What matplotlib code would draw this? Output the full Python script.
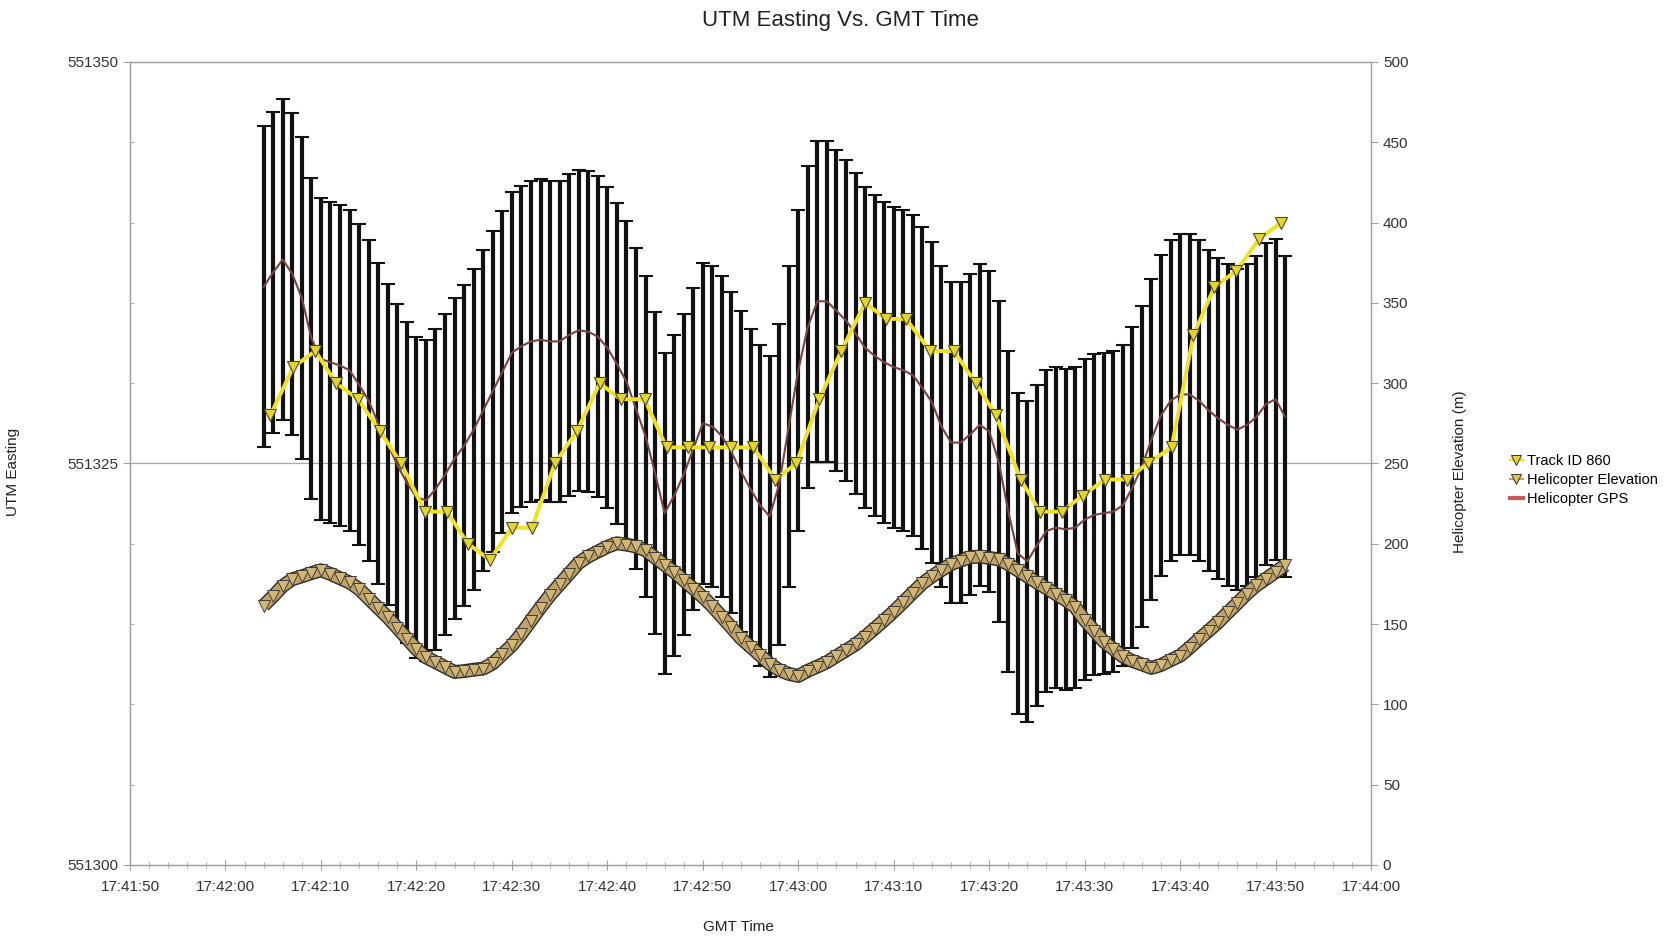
import pandas as pd
import matplotlib
matplotlib.use("Agg")
import matplotlib.pyplot as plt
import matplotlib.dates as mdates
import matplotlib.patheffects as pe
from matplotlib.lines import Line2D
from matplotlib.ticker import MultipleLocator, FormatStrFormatter

plt.rcParams['font.family'] = ['Liberation Sans', 'DejaVu Sans']

DAY = "2009-06-01 "

# Helicopter GPS, one reading per second starting 17:42:04
gps_start = "17:42:04"
gps_easting = [
    551336.0, 551336.9, 551337.7, 551336.8, 551335.3, 551332.8, 551331.5, 551331.3, 551331.1, 551330.8,
    551329.9, 551328.9, 551327.5, 551326.2, 551324.9, 551323.8, 551322.9, 551322.7, 551323.4, 551324.3,
    551325.3, 551326.1, 551327.1, 551328.3, 551329.5, 551330.7, 551331.9, 551332.3, 551332.6, 551332.7,
    551332.6, 551332.6, 551333.0, 551333.3, 551333.2, 551332.9, 551332.2, 551331.2, 551330.1, 551328.4,
    551326.7, 551324.4, 551321.9, 551323.0, 551324.3, 551325.9, 551327.5, 551327.3, 551326.7, 551325.7,
    551324.5, 551323.4, 551322.4, 551321.7, 551323.7, 551327.3, 551330.8, 551333.5, 551335.1, 551335.1,
    551334.5, 551333.9, 551333.1, 551332.2, 551331.7, 551331.3, 551331.0, 551330.8, 551330.5, 551329.7,
    551328.8, 551327.3, 551326.3, 551326.3, 551326.8, 551327.4, 551327.0, 551325.1, 551322.0, 551319.4,
    551318.9, 551319.9, 551320.8, 551321.0, 551320.9, 551321.0, 551321.5, 551321.8, 551321.9, 551322.0,
    551322.4, 551323.5, 551324.8, 551326.5, 551328.0, 551328.9, 551329.3, 551329.3, 551328.9, 551328.3,
    551327.8, 551327.4, 551327.1, 551327.4, 551327.9, 551328.7, 551329.0, 551327.9,
]
gps_err = 10.0  # +/- metres

heli_elev = [
    161.5, 167.4, 173.7, 177.9, 179.7, 181.7, 183.5, 181.2, 178.5, 175.9,
    171.8, 165.9, 160.0, 154.2, 147.7, 141.0, 134.4, 129.3, 126.3, 123.2,
    120.2, 120.7, 121.6, 122.3, 125.5, 131.1, 136.7, 144.0, 152.2, 160.3,
    168.0, 174.7, 181.4, 188.1, 192.1, 195.1, 198.1, 200.3, 199.5, 198.3,
    195.9, 191.4, 186.9, 182.5, 177.3, 172.1, 166.9, 161.1, 154.5, 147.9,
    141.1, 135.9, 130.6, 125.3, 121.4, 119.0, 117.7, 120.9, 123.5, 126.3,
    130.0, 133.6, 137.3, 142.1, 147.2, 152.4, 157.8, 163.6, 169.5, 175.3,
    179.7, 183.6, 187.4, 189.5, 191.6, 192.1, 191.2, 190.3, 187.3, 183.5,
    179.7, 175.9, 172.3, 168.6, 165.0, 160.6, 152.5, 145.9, 139.1, 134.5,
    129.9, 127.0, 124.9, 122.7, 124.5, 127.5, 130.3, 135.3, 140.7, 145.9,
    151.2, 157.2, 163.0, 169.0, 174.1, 178.2, 182.4, 186.6,
]

# Track ID 860 fixes
track_time = [
    "17:42:04.7", "17:42:07.1", "17:42:09.4", "17:42:11.6", "17:42:13.9", "17:42:16.2",
    "17:42:18.4", "17:42:20.9", "17:42:23.2", "17:42:25.4", "17:42:27.7", "17:42:30.0",
    "17:42:32.1", "17:42:34.5", "17:42:36.8", "17:42:39.2", "17:42:41.4", "17:42:43.9",
    "17:42:46.2", "17:42:48.5", "17:42:50.7", "17:42:53.0", "17:42:55.3", "17:42:57.6",
    "17:42:59.8", "17:43:02.2", "17:43:04.5", "17:43:07.0", "17:43:09.2", "17:43:11.3",
    "17:43:13.8", "17:43:16.3", "17:43:18.6", "17:43:20.7", "17:43:23.3", "17:43:25.3",
    "17:43:27.6", "17:43:29.8", "17:43:32.1", "17:43:34.4", "17:43:36.6", "17:43:39.1",
    "17:43:41.4", "17:43:43.6", "17:43:45.9", "17:43:48.3", "17:43:50.6",
]
track_easting = [
    551328, 551331, 551332, 551330, 551329, 551327, 551325, 551322, 551322, 551320,
    551319, 551321, 551321, 551325, 551327, 551330, 551329, 551329, 551326, 551326,
    551326, 551326, 551326, 551324, 551325, 551329, 551332, 551335, 551334, 551334,
    551332, 551332, 551330, 551328, 551324, 551322, 551322, 551323, 551324, 551324,
    551325, 551326, 551333, 551336, 551337, 551339, 551340,
]

gps_t = pd.date_range(DAY + gps_start, periods=len(gps_easting), freq="s")
track_t = pd.to_datetime([DAY + s for s in track_time])

fig = plt.figure(figsize=(16.71, 9.36), dpi=100)
ax = fig.add_axes([0.0778, 0.0759, 0.7427, 0.8579])

ax.axhline(551325, color='#a8a8a8', lw=0.9, zorder=0)
# error bars drawn heavy so the band reads as dark hatching
ax.errorbar(gps_t, gps_easting, yerr=gps_err, fmt='none', ecolor='#111111',
            elinewidth=3.0, capsize=5, capthick=1.5, zorder=2)
gps_line, = ax.plot(gps_t, gps_easting, color='#7a4240', lw=1.5, zorder=3)
ax.plot(track_t, track_easting, color='#f0e21e', lw=2.8,
        marker='v', ms=9, mfc='#e6d42a', mec='#4a4a30', mew=0.8, zorder=5)

ax2 = ax.twinx()
# elevation: dense triangle markers forming a hatched ribbon
ax2.plot(gps_t, heli_elev, color='#c0a266', lw=8, solid_capstyle='butt',
         path_effects=[pe.Stroke(linewidth=10, foreground='#2a2a2a'), pe.Normal()])
ax2.plot(gps_t, heli_elev, ls='none', marker='v', ms=8, mfc='#d2b676',
         mec='#2e2e2e', mew=0.6)

ax.set_xlim(pd.Timestamp(DAY + "17:41:50"), pd.Timestamp(DAY + "17:44:00"))
ax.set_ylim(551300, 551350)
ax2.set_ylim(0, 500)

ax.xaxis.set_major_locator(mdates.SecondLocator(bysecond=range(0, 60, 10)))
ax.xaxis.set_minor_locator(mdates.SecondLocator(bysecond=range(0, 60, 2)))
ax.xaxis.set_major_formatter(mdates.DateFormatter('%H:%M:%S'))
ax.yaxis.set_major_locator(MultipleLocator(25))
ax.yaxis.set_minor_locator(MultipleLocator(5))
ax.yaxis.set_major_formatter(FormatStrFormatter('%d'))
ax2.yaxis.set_major_locator(MultipleLocator(50))

for a in (ax, ax2):
    for sp in a.spines.values():
        sp.set_color('#a0a0a0')
        sp.set_linewidth(0.9)
ax.tick_params(axis='both', which='major', labelsize=11, colors='#a0a0a0',
               labelcolor='#333333', length=5)
ax.tick_params(axis='x', which='major', direction='inout', length=7, pad=7)
ax.tick_params(axis='x', which='minor', direction='inout', length=4, colors='#a0a0a0')
ax.tick_params(axis='y', which='minor', direction='in', length=3, colors='#a0a0a0')
ax2.tick_params(axis='y', labelsize=11, colors='#a0a0a0', labelcolor='#333333', length=5)

ax.set_xlabel('GMT Time', fontsize=11, color='#222222')
ax.set_ylabel('UTM Easting', fontsize=11, color='#222222')
ax2.set_ylabel('Helicopter Elevation (m)', fontsize=11, color='#222222')
ax.xaxis.set_label_coords(0.49, -0.069)
ax.yaxis.set_label_coords(-0.089, 0.49)
ax2.yaxis.set_label_coords(1.066, 0.49)

fig.text(0.503, 0.978, 'UTM Easting Vs. GMT Time', ha='center', va='center',
         fontsize=16, color='#222222')

# legend keys as in the original: small triangle keys and a red line
legend_keys = [
    Line2D([], [], color='#f0e21e', lw=1.5, marker='v', ms=7, mfc='#e6d42a', mec='#333333', mew=0.7),
    Line2D([], [], color='#d0a060', lw=1.5, marker='v', ms=7, mfc='#e0c850', mec='#333333', mew=0.7),
    Line2D([], [], color='#c85c5c', lw=3),
]
fig.legend(legend_keys, ['Track ID 860', 'Helicopter Elevation', 'Helicopter GPS'],
           loc='center left', bbox_to_anchor=(0.899, 0.487), frameon=False,
           fontsize=10.5, handlelength=0.9, handletextpad=0.3,
           labelspacing=0.35, borderpad=0, numpoints=1)

fig.savefig('out.png', dpi=100)
